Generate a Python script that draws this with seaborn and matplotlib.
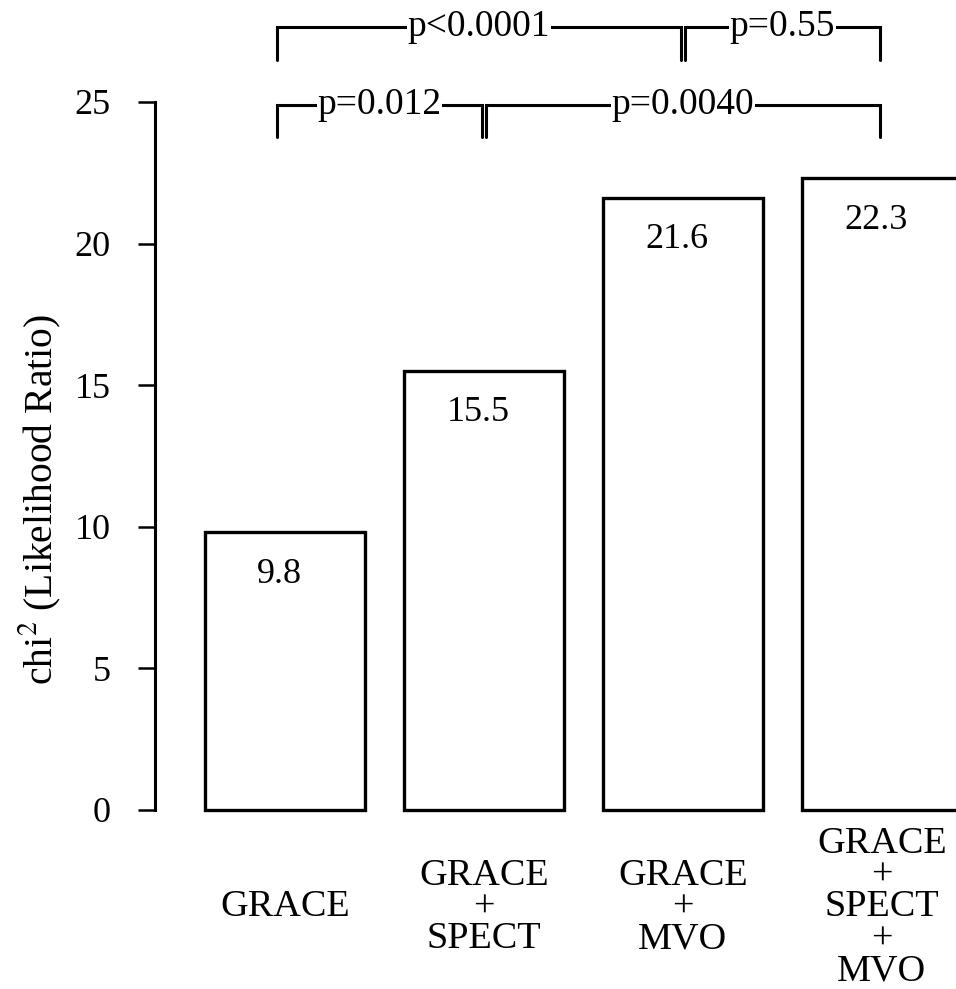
import matplotlib
matplotlib.use("Agg")
import matplotlib.pyplot as plt
import seaborn as sns
import pandas as pd

categories = ["GRACE", "GRACE\n+\nSPECT", "GRACE\n+\nMVO", "GRACE\n+\nSPECT\n+\nMVO"]
values = [9.8, 15.5, 21.6, 22.3]
value_labels = ["9.8", "15.5", "21.6", "22.3"]
y_ticks = [0, 5, 10, 15, 20, 25]
comparisons = [(0, 1, "p=0.012", 0), (1, 3, "p=0.0040", 0),
               (0, 2, "p<0.0001", 1), (2, 3, "p=0.55", 1)]

sns.set_style("white")
plt.rcParams["font.family"] = ["Liberation Serif", "DejaVu Serif"]
plt.rcParams["mathtext.fontset"] = "stix"
plt.rcParams["text.color"] = "black"
plt.rcParams["xtick.color"] = "black"
plt.rcParams["ytick.color"] = "black"
plt.rcParams["axes.labelcolor"] = "black"

df = pd.DataFrame({"cat": categories, "val": values})

W, H = 956, 989
fig = plt.figure(figsize=(W / 100, H / 100), dpi=100)
ax = fig.add_axes([155 / W, 179 / H, (W - 155) / W, 708 / H])

sns.barplot(data=df, x="cat", y="val", ax=ax, color="white",
            edgecolor="black", linewidth=2.4, width=0.8, saturation=1)
for p in ax.patches:
    p.set_facecolor("white")
    p.set_clip_on(False)

ax.set_xlim(-0.653, 3.372)
ax.set_ylim(0, 25)
ax.set_yticks(y_ticks)
ax.set_yticklabels([str(t) for t in y_ticks], fontsize=26)
ax.tick_params(axis="y", length=12, width=1.8, pad=20, direction="out", left=True,
               colors="black")
ax.tick_params(axis="x", length=0, pad=70)
ax.set_xticks(range(len(categories)))
ax.set_xticklabels(categories, fontsize=27.5, va="center", linespacing=0.9,
                   color="black")
for s in ["top", "right", "bottom"]:
    ax.spines[s].set_visible(False)
ax.spines["left"].set_linewidth(2.2)
ax.spines["left"].set_color("black")
ax.set_xlabel("")
ax.set_ylabel("")

fig.text(40 / W, 1 - 500 / H, "chi$^2$ (Likelihood Ratio)", rotation=90,
         fontsize=28.5, ha="center", va="center", color="black")

for i, (v, lab) in enumerate(zip(values, value_labels)):
    ax.annotate(lab, (i, v), xytext=(-4, -30), textcoords="offset points",
                ha="center", va="center", fontsize=26, color="black")

levels = [24.9, 27.65]
leg = 1.15
for x1, x2, txt, lvl in comparisons:
    left = x1 - 0.04 if x1 == 0 else x1 + 0.01
    right = x2 - 0.01
    y = levels[lvl]
    ax.plot([left, left, right, right], [y - leg, y, y, y - leg],
            color="black", lw=2.2, clip_on=False, solid_joinstyle="miter")
    ax.text((left + right) / 2, y, txt, ha="center", va="center", fontsize=27,
            color="black",
            bbox=dict(facecolor="white", edgecolor="none", pad=0.5), clip_on=False)

fig.savefig("out.png", dpi=100)
